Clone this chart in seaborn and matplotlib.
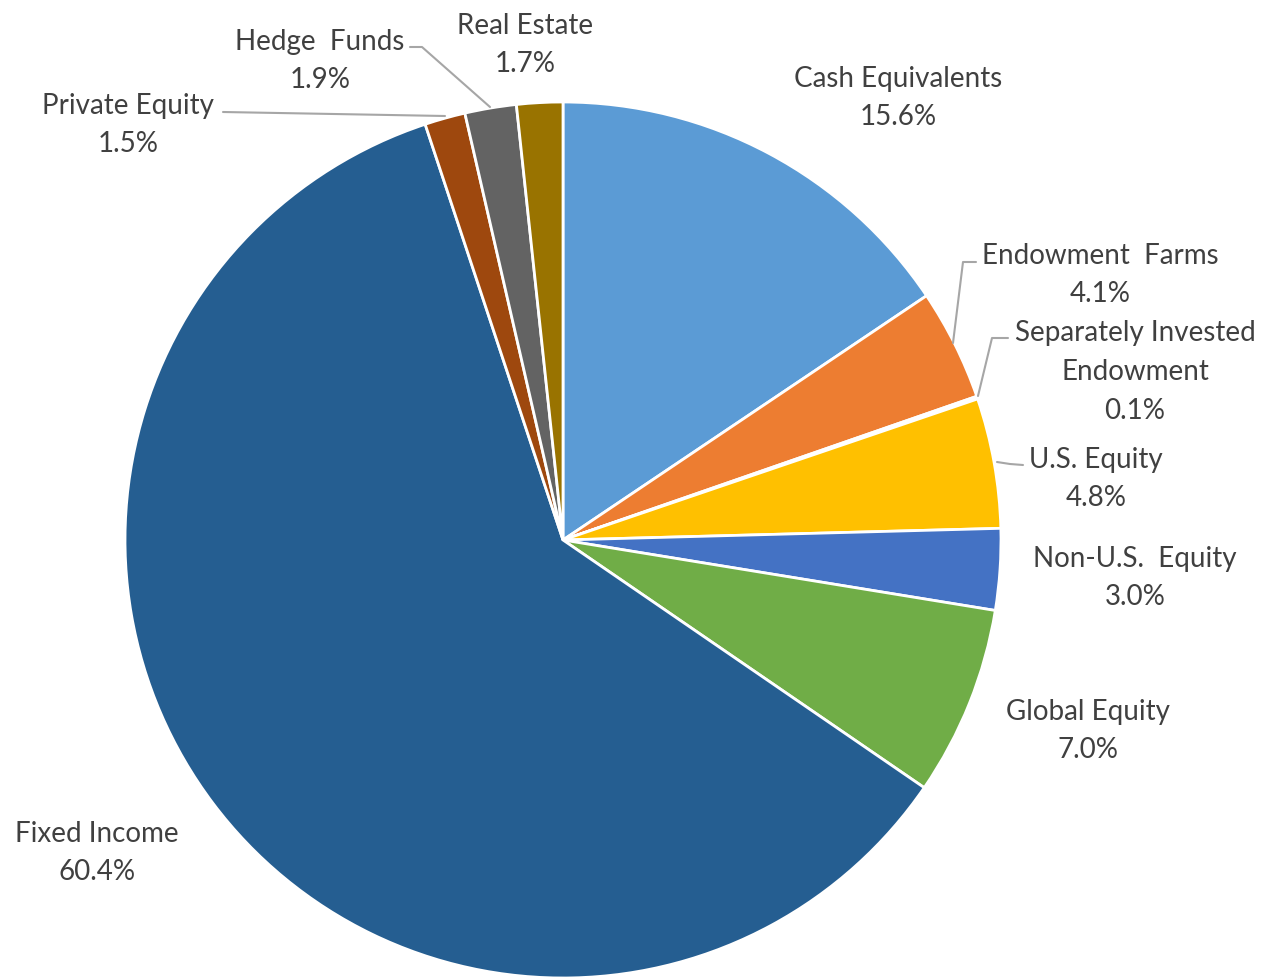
import matplotlib
matplotlib.use("Agg")
import matplotlib.pyplot as plt
import seaborn as sns

sns.set_theme(style="white")
plt.rcParams['font.family'] = ['Lato', 'DejaVu Sans']

# data, clockwise from 12 o'clock
categories = ["Cash Equivalents", "Endowment  Farms", "Separately Invested\nEndowment",
              "U.S. Equity", "Non-U.S.  Equity", "Global Equity", "Fixed Income",
              "Private Equity", "Hedge  Funds", "Real Estate"]
shares = [15.6, 4.1, 0.1, 4.8, 3.0, 7.0, 60.4, 1.5, 1.9, 1.7]
colors = ["#5B9BD5", "#ED7D31", "#A5A5A5", "#FFC000", "#4472C4",
          "#70AD47", "#255E91", "#9E480E", "#636363", "#997300"]

# label layout (pixel coords from top-left) and optional leader lines
label_pos = [(898, 98), (1100, 275), (1135, 372), (1096, 479), (1135, 578),
             (1088, 731), (97, 853), (128, 125), (320, 61), (525, 45)]
leaders = {
    1: [(976, 262), (963, 262), (953, 343)],
    2: [(1008, 338), (992, 338), (978, 396)],
    3: [(1023, 465), (1010, 464), (997, 462)],
    7: [(223, 112), (445, 116)],
    8: [(410, 47), (422, 47), (490, 107)],
}

W, H = 1266, 977
fig = plt.figure(figsize=(W / 100, H / 100), dpi=100)
ax = fig.add_axes([0, 0, 1, 1])

ax.pie(shares, colors=colors, startangle=90, counterclock=False,
       center=(563, H - 540), radius=438,
       wedgeprops=dict(edgecolor="white", linewidth=2))
ax.set_xlim(0, W)
ax.set_ylim(0, H)
ax.set_aspect("equal")
ax.axis("off")

text_color = "#404040"
for i, (name, val) in enumerate(zip(categories, shares)):
    x, y = label_pos[i]
    ax.text(x, H - y, f"{name}\n{val:.1f}%", ha="center", va="center",
            fontsize=20, color=text_color, linespacing=1.6)
for pts in leaders.values():
    xs = [p[0] for p in pts]
    ys = [H - p[1] for p in pts]
    ax.plot(xs, ys, color="#A6A6A6", linewidth=1.5)

fig.savefig("out.png", dpi=100)
